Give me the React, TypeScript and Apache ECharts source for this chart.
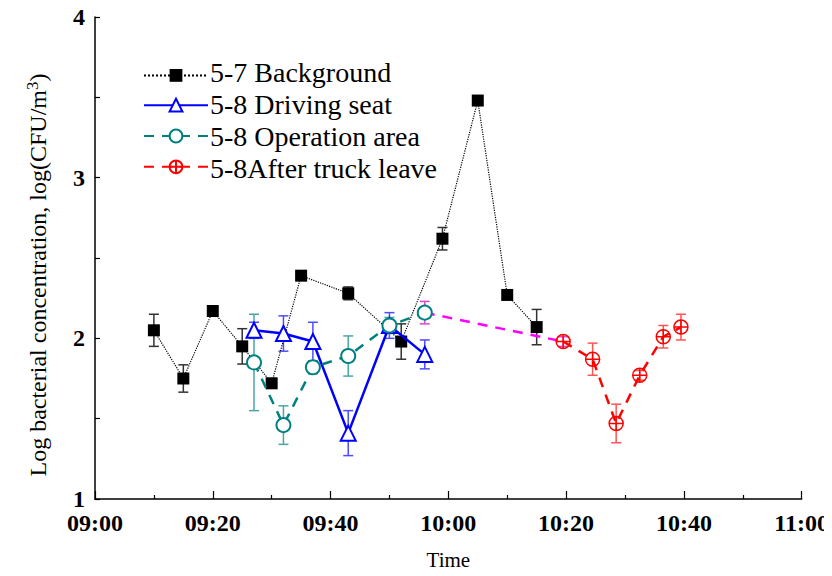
import React, { useEffect, useRef } from "react";
import * as echarts from "echarts";

// Sampling times (clock time) and log concentrations with ± error
const bgTimes = ["09:10", "09:15", "09:20", "09:25", "09:30", "09:35", "09:43", "09:52", "09:59", "10:05", "10:10", "10:15"];
const bgValues = [2.05, 1.75, 2.17, 1.95, 1.72, 2.39, 2.28, 1.98, 2.62, 3.48, 2.27, 2.07];
const bgErrors = [0.1, 0.085, 0.02, 0.11, 0.03, 0, 0.04, 0.11, 0.07, 0, 0, 0.11];

const seatTimes = ["09:27", "09:32", "09:37", "09:43", "09:50", "09:56"];
const seatValues = [2.05, 2.03, 1.98, 1.41, 2.08, 1.9];
const seatErrors = [0.05, 0.11, 0.12, 0.14, 0.08, 0.09];

const opTimes = ["09:27", "09:32", "09:37", "09:43", "09:50", "09:56"];
const opValues = [1.85, 1.46, 1.82, 1.89, 2.08, 2.16];
const opErrors = [0.3, 0.12, 0.04, 0.125, 0.05, 0];

// Link from the last operation-area sample to the first after-leave sample
const linkTimes = ["09:56", "10:19:30"];
const linkValues = [2.16, 1.98];
const linkErrors = [0.07, 0.03];

const leaveTimes = ["10:19:30", "10:24:30", "10:28:30", "10:32:30", "10:36:30", "10:39:30"];
const leaveValues = [1.98, 1.87, 1.47, 1.77, 2.01, 2.07];
const leaveErrors = [0, 0.1, 0.12, 0.03, 0.07, 0.08];

const seriesNames = ["5-7 Background", "5-8 Driving seat", "5-8 Operation area", "5-8After truck leave"];

const FONT = "'Liberation Serif', 'Times New Roman', serif";

// legend layout
const LEG_LEFT = 138;
const LEG_TOP = 64;
const LEG_ROW = 32;
const LEG_ICON_W = 64;
const LEG_ICON_H = 16;

// minutes after 09:00
const toMin = (t: string) => {
  const [h, m, s] = t.split(":").map(Number);
  return h * 60 + m + (s || 0) / 60 - 540;
};
const fmtTime = (v: number) => {
  const total = 540 + v;
  const h = Math.floor(total / 60);
  const m = Math.round(total % 60);
  return `${String(h).padStart(2, "0")}:${String(m).padStart(2, "0")}`;
};

const points = (times: string[], vals: number[]) => times.map((t, i) => [toMin(t), vals[i]]);
const errRows = (times: string[], vals: number[], errs: number[]) =>
  times
    .map((t, i) => [toMin(t), vals[i] - errs[i], vals[i] + errs[i]])
    .filter((r, i) => errs[i] > 0);

const errorBarSeries = (data: number[][], color: string) => ({
  type: "custom",
  silent: true,
  z: 3,
  data,
  renderItem: (_params: any, api: any) => {
    const x = api.value(0);
    const lo = api.coord([x, api.value(1)]);
    const hi = api.coord([x, api.value(2)]);
    const cap = 5;
    const style = { stroke: color, lineWidth: 1.5 };
    return {
      type: "group",
      children: [
        { type: "line", shape: { x1: lo[0], y1: lo[1], x2: hi[0], y2: hi[1] }, style },
        { type: "line", shape: { x1: hi[0] - cap, y1: hi[1], x2: hi[0] + cap, y2: hi[1] }, style },
        { type: "line", shape: { x1: lo[0] - cap, y1: lo[1], x2: lo[0] + cap, y2: lo[1] }, style },
      ],
    };
  },
});

const circlePlus =
  "path://M0,50 A50,50 0 1,1 100,50 A50,50 0 1,1 0,50 Z M0,50 L100,50 M50,0 L50,100";

export default function App() {
  const ref = useRef<HTMLDivElement>(null);

  useEffect(() => {
    if (!ref.current) return;
    const chart = echarts.init(ref.current, null, { renderer: "svg" });

    // legend captions, placed beside the legend icons
    const legendLabels = seriesNames.map((name, i) => ({
      type: "text",
      x: LEG_LEFT + LEG_ICON_W + 8,
      y: LEG_TOP + LEG_ICON_H / 2 + i * LEG_ROW,
      style: {
        text: name,
        fontFamily: FONT,
        fontSize: 28,
        fill: "#000",
        align: "left",
        verticalAlign: "middle",
      },
    }));

    chart.setOption({
      animation: false,
      backgroundColor: "#fff",
      textStyle: { fontFamily: FONT },
      grid: { left: 95, right: 29, top: 17, bottom: 77 },
      legend: {
        orient: "vertical",
        left: LEG_LEFT,
        top: LEG_TOP,
        itemWidth: LEG_ICON_W,
        itemHeight: LEG_ICON_H,
        itemGap: LEG_ROW - LEG_ICON_H,
        data: seriesNames,
        formatter: () => "",
        textStyle: { fontSize: 1, lineHeight: 1 },
      },
      xAxis: {
        type: "value",
        min: 0,
        max: 120,
        interval: 20,
        name: "Time",
        nameLocation: "middle",
        nameGap: 50,
        nameTextStyle: { fontFamily: FONT, fontSize: 21, color: "#000" },
        axisLine: { lineStyle: { color: "#000", width: 1.5 } },
        axisTick: { inside: true, length: 8, lineStyle: { color: "#000", width: 1.2 } },
        minorTick: { show: true, splitNumber: 2, length: 4, lineStyle: { color: "#000", width: 1.2 } },
        splitLine: { show: false },
        axisLabel: {
          formatter: (v: number) => fmtTime(v),
          fontFamily: FONT,
          fontWeight: "bold",
          fontSize: 24,
          lineHeight: 18,
          color: "#000",
          margin: 15,
        },
      },
      yAxis: {
        type: "value",
        min: 1,
        max: 4,
        interval: 1,
        axisLine: { show: true, lineStyle: { color: "#000", width: 1.5 } },
        axisTick: { show: true, inside: true, length: 5, lineStyle: { color: "#000", width: 1.2 } },
        minorTick: { show: true, splitNumber: 2, length: 5, lineStyle: { color: "#000", width: 1.2 } },
        splitLine: { show: false },
        axisLabel: {
          fontFamily: FONT,
          fontWeight: "bold",
          fontSize: 24,
          lineHeight: 16,
          color: "#000",
          margin: 10,
        },
      },
      graphic: [
        {
          type: "text",
          x: 38,
          y: 275,
          rotation: Math.PI / 2,
          style: {
            text: "Log bacterial concentration, log(CFU/m{sup|3})",
            fontFamily: FONT,
            fontSize: 24,
            fill: "#000",
            align: "center",
            verticalAlign: "middle",
            rich: { sup: { fontFamily: FONT, fontSize: 17, verticalAlign: "top", padding: [0, 0, 12, 0] } },
          },
        },
        ...legendLabels,
      ],
      series: [
        {
          name: seriesNames[0],
          type: "line",
          z: 4,
          data: points(bgTimes, bgValues),
          symbol: "rect",
          symbolSize: 12,
          itemStyle: { color: "#000" },
          lineStyle: { color: "#000", width: 1.2, type: "dotted" },
        },
        {
          name: seriesNames[1],
          type: "line",
          z: 5,
          data: points(seatTimes, seatValues),
          symbol: "emptyTriangle",
          symbolSize: 15,
          itemStyle: { color: "#0000ff", borderWidth: 1.5 },
          lineStyle: { color: "#0000ff", width: 2.5, type: "solid" },
        },
        {
          name: seriesNames[2],
          type: "line",
          z: 5,
          data: points(opTimes, opValues),
          symbol: "emptyCircle",
          symbolSize: 14,
          itemStyle: { color: "#008080", borderWidth: 1.5 },
          lineStyle: { color: "#008080", width: 2.5, type: [10, 8] },
        },
        {
          name: "link",
          type: "line",
          z: 4,
          data: points(linkTimes, linkValues),
          symbol: "none",
          lineStyle: { color: "#ff00ff", width: 2.5, type: [10, 8] },
        },
        {
          name: seriesNames[3],
          type: "line",
          z: 5,
          data: points(leaveTimes, leaveValues),
          symbol: circlePlus,
          symbolSize: 14,
          itemStyle: { color: "rgba(255,255,255,0)", borderColor: "#ff0000", borderWidth: 1.5 },
          lineStyle: { color: "#ff0000", width: 2.5, type: [10, 8] },
        },
        errorBarSeries(errRows(bgTimes, bgValues, bgErrors), "#333333"),
        errorBarSeries(errRows(seatTimes, seatValues, seatErrors), "#4d4dff"),
        errorBarSeries(errRows(opTimes, opValues, opErrors), "#4aa6a6"),
        errorBarSeries(errRows(linkTimes, linkValues, linkErrors), "#d24bd2"),
        errorBarSeries(errRows(leaveTimes, leaveValues, leaveErrors), "#ff5555"),
      ],
    });
    return () => chart.dispose();
  }, []);

  return <div ref={ref} style={{ width: 832, height: 576, margin: -8 }} />;
}
